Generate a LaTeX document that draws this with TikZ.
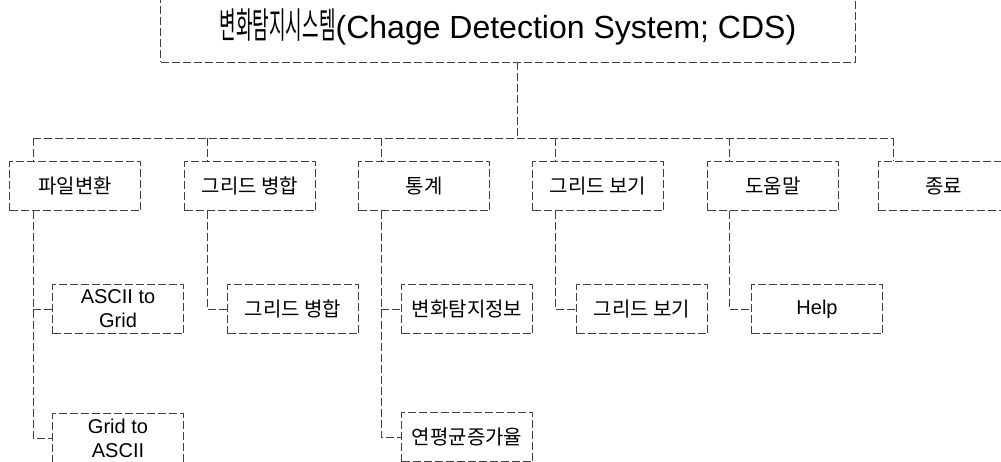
\documentclass[tikz,border=0pt]{standalone}
\usepackage{fontspec}
\setmainfont{Liberation Sans}
\newfontfamily\kr{Noto Sans CJK KR}
\newfontfamily\krt[FakeStretch=0.5]{Noto Sans CJK KR}
\begin{document}
\begin{tikzpicture}[x=1pt,y=-1pt,
  ln/.style={draw=black!75, line width=0.65pt, dash pattern=on 8pt off 3pt},
  bx/.style={ln, rectangle, minimum width=131pt, minimum height=49pt, inner sep=0pt, align=center, font=\fontsize{20}{24}\selectfont}]
\useasboundingbox (0,0) rectangle (1001,461);
% top box
\node[ln, rectangle, minimum width=695pt, minimum height=70pt, inner sep=0pt, font=\fontsize{32}{36}\selectfont] (top) at (508,27) {{\fontsize{36}{36}\krt 변화탐지시스템}(Chage Detection System; CDS)};
% level 1
\node[bx] (f1) at (75,186) {\kr 파일변환};
\node[bx] (f2) at (250,186) {\kr 그리드 병합};
\node[bx] (f3) at (424,186) {\kr 통계};
\node[bx] (f4) at (598,186) {\kr 그리드 보기};
\node[bx] (f5) at (773,186) {\kr 도움말};
\node[bx] (f6) at (943.5,186) {\kr 종료};
% level 2
\node[bx] (s11) at (118,309) {ASCII to\\Grid};
\node[bx] (s12) at (118,438) {Grid to\\ASCII};
\node[bx] (s21) at (293,309) {\kr 그리드 병합};
\node[bx] (s31) at (467,309) {\kr 변화탐지정보};
\node[bx] (s32) at (467,437) {\kr 연평균증가율};
\node[bx] (s41) at (642,309) {\kr 그리드 보기};
\node[bx] (s51) at (817,309) {Help};
% bus
\coordinate (jn) at (517,138);
\coordinate (d1) at (33,138);
\coordinate (d2) at (207,138);
\coordinate (d3) at (381,138);
\coordinate (d4) at (555,138);
\coordinate (d5) at (729,138);
\coordinate (d6) at (893,138);
\draw[ln] (jn |- top.south) -- (jn);
\draw[ln] (d1) -- (d6);
\foreach \i in {1,...,6} \draw[ln] (d\i) -- (d\i |- f\i.north);
% level 2 connectors
\draw[ln] (d1 |- f1.south) -- (d1 |- s12.west) -- (s12.west);
\draw[ln] (d1 |- s11.west) -- (s11.west);
\draw[ln] (d2 |- f2.south) -- (d2 |- s21.west) -- (s21.west);
\draw[ln] (d3 |- f3.south) -- (d3 |- s32.west) -- (s32.west);
\draw[ln] (d3 |- s31.west) -- (s31.west);
\draw[ln] (d4 |- f4.south) -- (d4 |- s41.west) -- (s41.west);
\draw[ln] (d5 |- f5.south) -- (d5 |- s51.west) -- (s51.west);
\end{tikzpicture}
\end{document}
